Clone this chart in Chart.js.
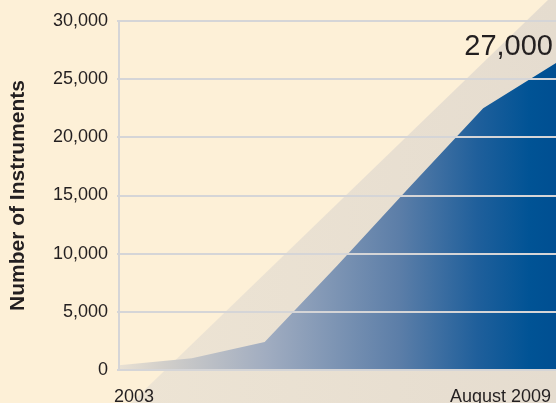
<!DOCTYPE html>
<html>
<head>
<meta charset="utf-8">
<script src="https://cdn.jsdelivr.net/npm/chart.js@4/dist/chart.umd.min.js"></script>
<style>
  html, body { margin: 0; padding: 0; background: #fdf0d7; }
  #wrap { width: 556px; height: 403px; position: relative; }
</style>
</head>
<body>
<div id="wrap"><canvas id="myChart"></canvas></div>
<script>
// Daten
const categories = ["2003", "2004", "2005", "2006", "2007", "2008", "August 2009"];
const instruments = [400, 1000, 2400, 9000, 15800, 22500, 26400];
const shownLabels = ["2003", "August 2009"];
const yTicks = [0, 5000, 10000, 15000, 20000, 25000, 30000];
const calloutValue = 27000;
const calloutText = "27,000";
// grauer Pfeil im Hintergrund: zwei Punkte der linken Kante (Index, Wert)
const bandIdx = [0.165, 5.89];
const bandVal = [-2840, 31810];

const ink = "#231f20";
const gridGrey = "#d5d5d7";

// Hintergrundband zeichnen
const bandPlugin = {
  id: "band",
  beforeDraw(chart) {
    const xs = chart.scales.x, ys = chart.scales.y, c = chart.ctx;
    const x1 = xs.getPixelForValue(bandIdx[0]), y1 = ys.getPixelForValue(bandVal[0]);
    const x2 = xs.getPixelForValue(bandIdx[1]), y2 = ys.getPixelForValue(bandVal[1]);
    const k = (x2 - x1) / (y2 - y1);
    const h = chart.height, w = chart.width;
    const xb = x1 + k * (h - y1), xt = x1 + k * (0 - y1);
    const g = c.createLinearGradient(xb, 0, w, 0);
    g.addColorStop(0, "#ede4d4");
    g.addColorStop(1, "#e5dccf");
    c.save();
    c.fillStyle = g;
    c.beginPath();
    c.moveTo(xb, h);
    c.lineTo(xt, 0);
    c.lineTo(w, 0);
    c.lineTo(w, h);
    c.closePath();
    c.fill();
    c.restore();
  },
  afterDraw(chart) {
    const ys = chart.scales.y, c = chart.ctx, a = chart.chartArea;
    c.save();
    c.font = "29px 'Liberation Sans', Arial, sans-serif";
    c.fillStyle = ink;
    c.textAlign = "right";
    c.textBaseline = "alphabetic";
    c.fillText(calloutText, a.right - 3, ys.getPixelForValue(calloutValue) - 1);
    c.restore();
  }
};

function blueFill(ctx) {
  const chart = ctx.chart;
  const a = chart.chartArea;
  if (!a) return "#005293";
  const g = chart.ctx.createLinearGradient(a.left, 0, a.right, 0);
  g.addColorStop(0, "#e9e1d3");
  g.addColorStop(0.1, "#d2cfca");
  g.addColorStop(0.34, "#a0acc0");
  g.addColorStop(0.64, "#5c7ea8");
  g.addColorStop(0.82, "#1f5f9b");
  g.addColorStop(0.94, "#005395");
  g.addColorStop(1, "#004f92");
  return g;
}

const lineChart = document.getElementById("myChart");

let myChart = new Chart(lineChart, {
  type: "line",
  data: {
    labels: categories,
    datasets: [
      {
        label: "Number of Instruments",
        data: instruments,
        backgroundColor: blueFill,
        borderWidth: 0,
        pointRadius: 0,
        tension: 0,
        fill: "origin",
      },
    ],
  },
  options: {
    responsive: true,
    maintainAspectRatio: false,
    animation: false,
    layout: { padding: { top: 21, left: 0, right: 0, bottom: 0 } },
    plugins: { legend: { display: false }, tooltip: { enabled: false } },
    scales: {
      x: {
        grid: { display: false },
        border: { display: false },
        ticks: {
          autoSkip: false,
          maxRotation: 0,
          align: "inner",
          labelOffset: -5,
          padding: 8,
          color: ink,
          font: { family: "'Liberation Sans', Arial, sans-serif", size: 18 },
          callback: function (v, i) {
            const lab = categories[i];
            return shownLabels.includes(lab) ? lab : "";
          },
        },
        afterFit(s) {
          s.height = 33;
          s.paddingLeft = 0;
          s.paddingRight = 0;
        },
      },
      y: {
        min: 0,
        max: 30000,
        afterBuildTicks(s) { s.ticks = yTicks.map((v) => ({ value: v })); },
        grid: { color: gridGrey, lineWidth: 2, tickLength: 2, z: 1 },
        border: { display: true, color: gridGrey, width: 2, z: 1 },
        ticks: {
          padding: 9,
          color: ink,
          font: { family: "'Liberation Sans', Arial, sans-serif", size: 18 },
          callback: (v) => v.toLocaleString("en-US"),
        },
        title: {
          display: true,
          text: "Number of Instruments",
          color: ink,
          padding: { top: 6, bottom: 0 },
          font: { family: "'Liberation Sans', Arial, sans-serif", size: 21, weight: "bold" },
        },
        afterFit(s) { s.width = 119; },
      },
    },
  },
  plugins: [bandPlugin],
});
</script>
</body>
</html>
